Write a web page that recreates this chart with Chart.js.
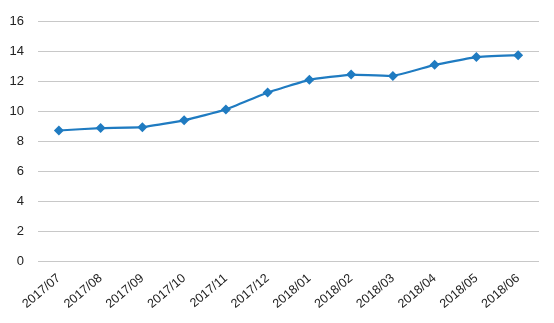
<!DOCTYPE html>
<html>
<head>
<meta charset="utf-8">
<script src="https://cdn.jsdelivr.net/npm/chart.js@4/dist/chart.umd.min.js"></script>
<style>
html,body{margin:0;padding:0;background:#fff;}
#wrap{width:554px;height:323px;position:relative;}
</style>
</head>
<body>
<div id="wrap"><canvas id="c" width="554" height="323"></canvas></div>
<script>
const categories = ["2017/07","2017/08","2017/09","2017/10","2017/11","2017/12","2018/01","2018/02","2018/03","2018/04","2018/05","2018/06"];
const values = [8.73, 8.89, 8.95, 9.41, 10.13, 11.27, 12.12, 12.47, 12.38, 13.12, 13.64, 13.77];
const yTicks = [0, 2, 4, 6, 8, 10, 12, 14, 16];

const blue = "#1f7bc1";
new Chart(document.getElementById("c"), {
  type: "line",
  data: {
    labels: categories,
    datasets: [{
      data: values,
      borderColor: blue,
      backgroundColor: blue,
      borderWidth: 2.2,
      pointStyle: "rectRot",
      pointRadius: 5,
      pointBorderWidth: 0,
      pointBackgroundColor: blue,
      tension: 0.1,
      fill: false
    }]
  },
  options: {
    responsive: false,
    animation: false,
    layout: { padding: { top: 8, right: 15, left: 0, bottom: 0 } },
    plugins: { legend: { display: false }, tooltip: { enabled: false } },
    scales: {
      x: {
        offset: true,
        grid: { display: false },
        border: { display: false },
        ticks: {
          color: "#222",
          font: { family: "Liberation Sans", size: 12.5 },
          maxRotation: 40, minRotation: 40,
          autoSkip: false,
          padding: 2
        },
        afterFit(s) { s.height = 62; }
      },
      y: {
        min: 0, max: 16,
        afterBuildTicks(s) { s.ticks = yTicks.map(v => ({ value: v })); },
        grid: { color: "#c8c8c8", lineWidth: 1, drawTicks: false },
        border: { display: false },
        ticks: {
          color: "#222",
          font: { family: "Liberation Sans", size: 13 },
          padding: 14
        },
        afterFit(s) { s.width = 38; }
      }
    }
  }
});
</script>
</body>
</html>
